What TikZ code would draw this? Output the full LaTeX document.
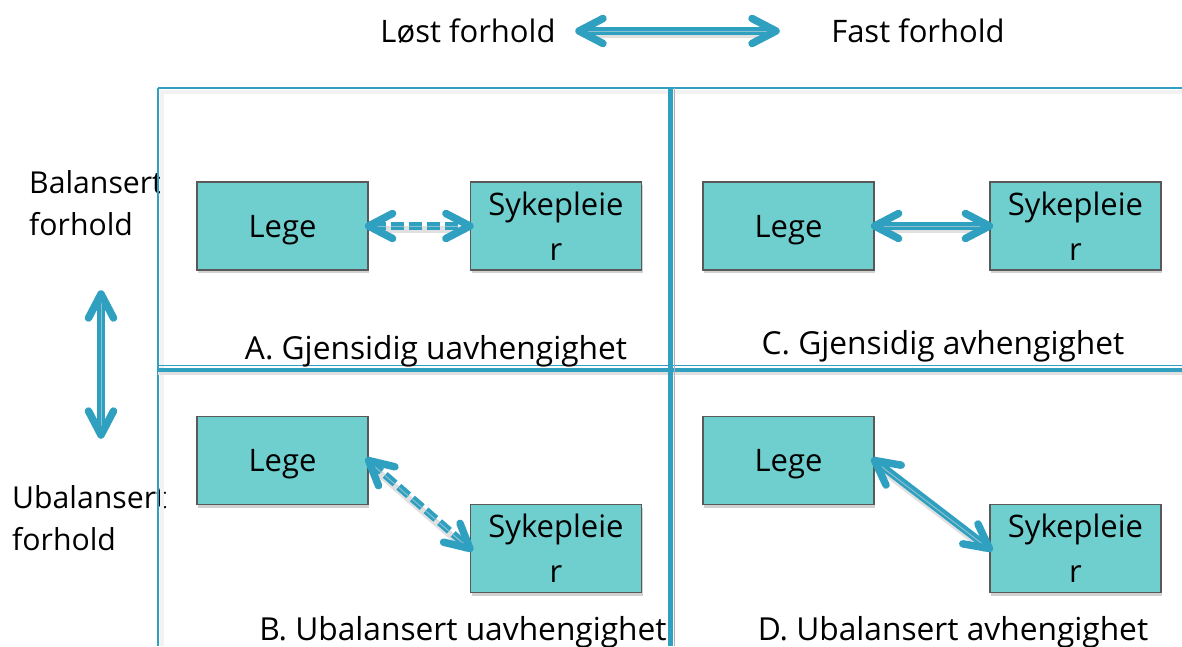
\documentclass[tikz,border=0pt]{standalone}
\usepackage{fontspec}
\setmainfont{Open Sans}
\usetikzlibrary{decorations.markings,shadows}

\definecolor{linkcol}{RGB}{47,160,192}
\definecolor{stripe}{RGB}{140,192,208}
\definecolor{boxfill}{RGB}{111,207,207}

\begin{document}
\begin{tikzpicture}[x=1pt,y=-1pt,
  lbl/.style={font=\fontsize{31}{36}\selectfont, inner sep=0pt},
  caption/.style={font=\fontsize{31.7}{36}\selectfont, inner sep=0pt, anchor=base},
  sidelbl/.style={font=\fontsize{30.2}{42}\selectfont, inner sep=0pt, align=left, anchor=west},
  role/.style={draw=black!65, line width=1.2pt, fill=boxfill,
    minimum width=171pt, minimum height=88pt, inner sep=0pt, align=center,
    font=\fontsize{31}{45}\selectfont, text depth=0pt,
    drop shadow={shadow xshift=1pt, shadow yshift=-3pt, opacity=0.3, fill=black!60}},
  frame/.style={draw=linkcol, line width=1.5pt},
  tipdraw/.style={draw=linkcol, solid, line width=7.5pt, line cap=round, line join=round,
    shorten <=0pt, shorten >=0pt},
  link/.style={draw=linkcol, line width=7.5pt, shorten <=4pt, shorten >=4pt,
    preaction={draw=black, opacity=0.12, line width=7pt, transform canvas={yshift=-3.5pt}},
    postaction={draw=stripe, line width=1pt, transform canvas={yshift=-0.8pt}},
    postaction={decorate, decoration={markings,
      mark=at position 0 with {\draw[tipdraw] (24pt,12.5pt) -- (0pt,0pt) -- (24pt,-12.5pt);},
      mark=at position 1 with {\draw[tipdraw] (-24pt,12.5pt) -- (0pt,0pt) -- (-24pt,-12.5pt);}}}},
  dashlink/.style={link, dash pattern=on 13pt off 5pt}
]
\useasboundingbox (0,0) rectangle (1182,646);

% axis labels and axis arrows
\node[lbl, anchor=base] (loose) at (468,42) {Løst forhold};
\node[lbl, anchor=base] (fixed) at (918,42) {Fast forhold};
\coordinate (ltip) at (579,31);
\coordinate (rtip) at (776,31);
\draw[link] (ltip) -- (rtip);

\node[sidelbl] (bal) at (29,203.5) {Balansert\\forhold};
\node[sidelbl] (unbal) at (12,518) {Ubalansert\\forhold};
\coordinate (utip) at (101,294);
\coordinate (dtip) at (101,435);
\draw[link] (utip) -- (dtip);

% quadrant frame
\draw[black!5, line width=4pt] (160,92) -- (1182,92);
\draw[black!5, line width=4pt] (162,90) -- (162,646);
\draw[frame] (158,88) -- (1182,88);
\draw[frame] (158,88) -- (158,646);
\draw[linkcol, line width=1pt] (158,365) -- (1182,365);
\draw[black!12, line width=3pt] (158,373.5) -- (1182,373.5);
\draw[linkcol, line width=4pt] (158,369.5) -- (1182,369.5);
\draw[black!30, line width=1.5pt] (674.3,88) -- (674.3,646);
\draw[linkcol, line width=5pt] (670.5,88) -- (670.5,646);

% A: mutual independence
\node[role] (legeA) at (282.5,226) {Lege};
\node[role] (sykA) at (556,226) {Sykepleie\\r};
\draw[dashlink] (legeA.east) -- (sykA.west);
\node[caption] (capA) at (436,359) {A. Gjensidig uavhengighet};

% C: mutual dependence
\node[role] (legeC) at (788.5,226) {Lege};
\node[role] (sykC) at (1075.5,226) {Sykepleie\\r};
\draw[link] (legeC.east) -- (sykC.west);
\node[caption] (capC) at (943,354) {C. Gjensidig avhengighet};

% B: unbalanced independence
\node[role] (legeB) at (282.5,460.5) {Lege};
\node[role] (sykB) at (556,548.5) {Sykepleie\\r};
\draw[dashlink] (legeB.east) -- (sykB.west);
\node[caption] (capB) at (463,640) {B. Ubalansert uavhengighet};

% D: unbalanced dependence
\node[role] (legeD) at (788.5,460.5) {Lege};
\node[role] (sykD) at (1075.5,548.5) {Sykepleie\\r};
\draw[link] (legeD.east) -- (sykD.west);
\node[caption] (capD) at (953,640) {D. Ubalansert avhengighet};
\end{tikzpicture}
\end{document}
